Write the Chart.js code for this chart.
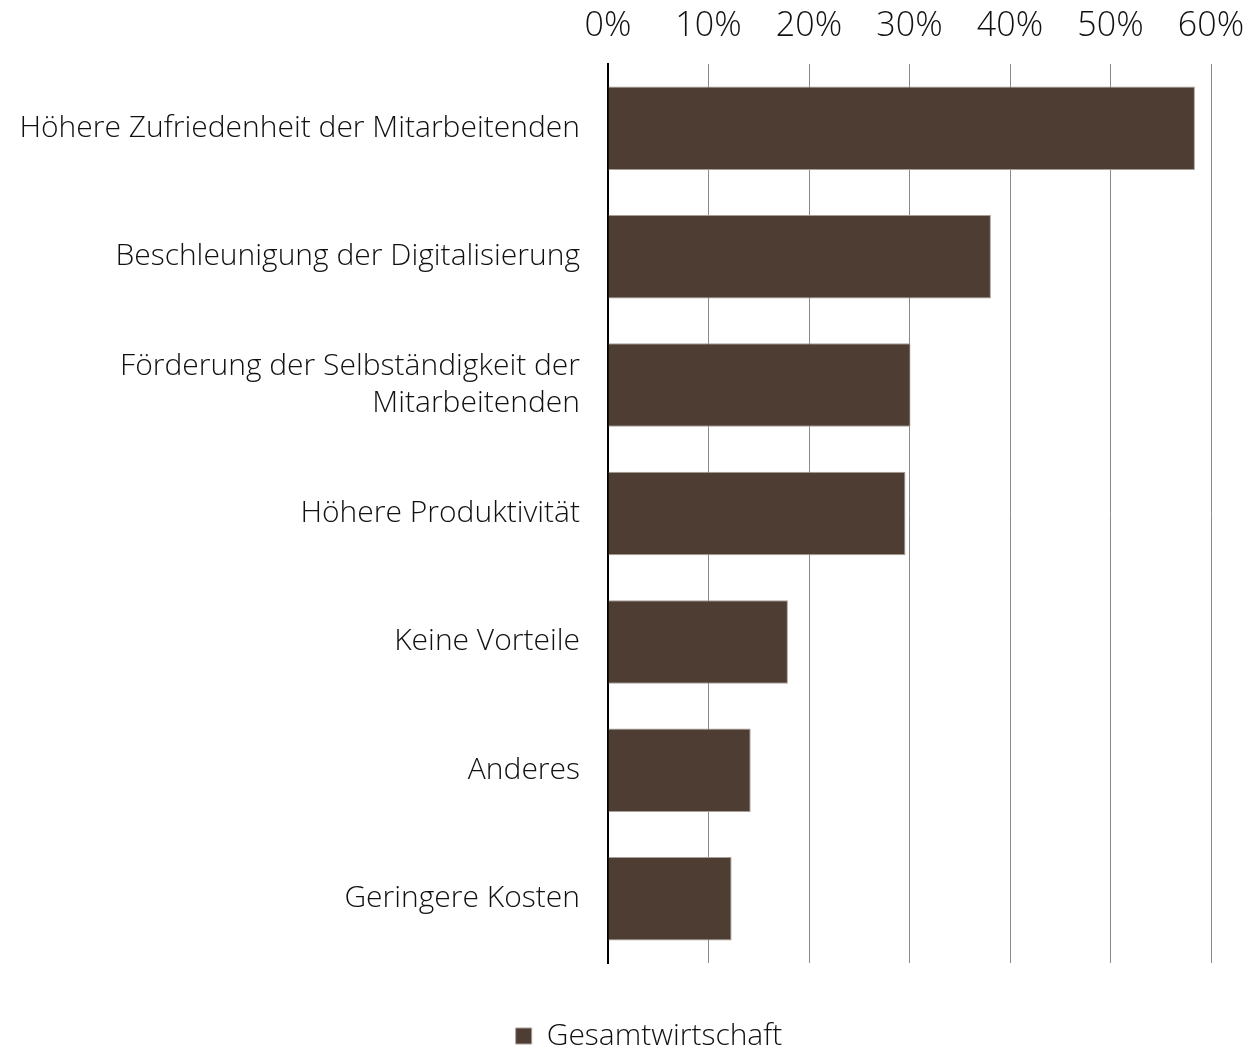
<!DOCTYPE html>
<html>
<head>
<meta charset="utf-8">
<script src="https://cdn.jsdelivr.net/npm/chart.js@4"></script>
<style>
	html, body { margin: 0; padding: 0; background: #fff; }
	#wrap { width: 1246px; height: 1053px; }
</style>
</head>
<body>
<div id="wrap"><canvas id="chart"></canvas></div>
<script>
const categories = [
	'Höhere Zufriedenheit der Mitarbeitenden',
	'Beschleunigung der Digitalisierung',
	['Förderung der Selbständigkeit der', 'Mitarbeitenden'],
	'Höhere Produktivität',
	'Keine Vorteile',
	'Anderes',
	'Geringere Kosten'
];
const seriesName = 'Gesamtwirtschaft';
const seriesValues = [58.4, 38.1, 30.1, 29.6, 17.9, 14.2, 12.3];
const xTicks = [0, 10, 20, 30, 40, 50, 60];

const fontFamily = '"Open Sans", "DejaVu Sans", sans-serif';
const textColor = '#111';

new Chart(document.getElementById('chart'), {
	type: 'bar',
	data: {
		labels: categories,
		datasets: [{
			label: seriesName,
			data: seriesValues,
			backgroundColor: '#4e3d32',
			borderColor: '#a89e97',
			borderWidth: 1,
			barPercentage: 0.65,
			categoryPercentage: 1
		}]
	},
	options: {
		indexAxis: 'y',
		responsive: true,
		maintainAspectRatio: false,
		animation: false,
		// negative right padding + an empty right box keeps the legend centred like the original
		layout: {
			padding: { left: 0, right: -52, top: 0, bottom: -8 }
		},
		scales: {
			x: {
				position: 'top',
				min: 0,
				max: 60,
				afterBuildTicks: scale => {
					scale.ticks = xTicks.map(v => ({ value: v }));
				},
				afterFit: scale => {
					scale.height = 64;
					scale.paddingLeft = 0;
					scale.paddingRight = 0;
				},
				ticks: {
					callback: v => v + '%',
					color: textColor,
					font: { family: fontFamily, size: 34, weight: 300 },
					padding: 17,
					maxRotation: 0
				},
				grid: {
					color: '#8a8a8a',
					lineWidth: 1,
					drawTicks: false
				},
				border: { display: false }
			},
			y: {
				afterFit: scale => { scale.width = 608; },
				ticks: {
					color: textColor,
					font: { family: fontFamily, size: 30, weight: 300, lineHeight: 1.24 },
					padding: 28
				},
				grid: { display: false, drawTicks: false },
				border: { display: true, color: '#000', width: 2 }
			},
			spacer: {
				type: 'linear',
				axis: 'y',
				position: 'right',
				afterFit: scale => { scale.width = 87; },
				ticks: { display: false },
				grid: { display: false, drawTicks: false },
				border: { display: false }
			}
		},
		plugins: {
			legend: {
				position: 'bottom',
				labels: {
					color: textColor,
					font: { family: fontFamily, size: 30, weight: 300 },
					boxWidth: 16,
					boxHeight: 16,
					padding: 58
				}
			},
			tooltip: { enabled: false }
		}
	}
});
</script>
</body>
</html>
